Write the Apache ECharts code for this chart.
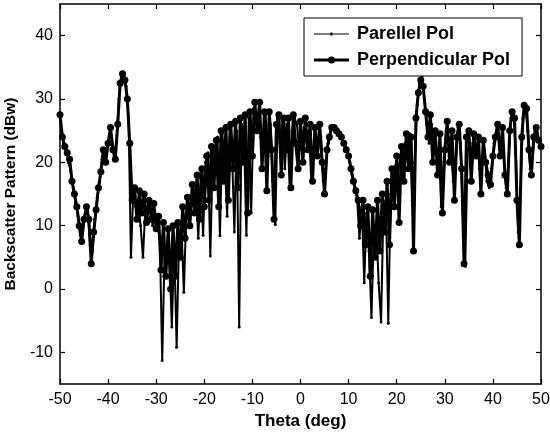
<!DOCTYPE html>
<html>
<head>
<meta charset="utf-8">
<script src="https://cdn.jsdelivr.net/npm/echarts@6/dist/echarts.min.js"></script>
<style>html,body{margin:0;padding:0;background:#fff}#c{width:550px;height:437px}</style>
</head>
<body>
<div id="c"></div>
<script>
// Theta grids (deg)
const perpStart = -50, perpStep = 0.5;
const parStart = -49.75, parStep = 0.5;
const xTicks = [-50, -40, -30, -20, -10, 0, 10, 20, 30, 40, 50];
const yTicks = [-10, 0, 10, 20, 30, 40];

// Perpendicular Pol (dBw)
const perpValues = [
 27.5,24,22.5,21.5,20.5,17,15,13,10,7.5,
 11,13,11,4,9,12.5,16,18.5,22,20,
 23,25.5,22,20.5,26,32.5,34,33,30,23,
 14,16,11,15.5,12,15,10.5,14,11,13.5,
 9.5,11.5,3,10.5,2,9.5,0,10,2,10.5,
 5,13,8,14.5,10,16.5,12,18,11,19,
 13,21,14,22.5,16,23.5,13,25,17,25.5,
 14,26,19,26.5,16,27,20,27.5,12,28,
 21,29.5,25,29.5,19,28,15.5,28,22,11,
 26,27.5,18,27,22,27,16,27.5,23,19,
 26.5,20,27,22,26,17,25.5,21,26,20,
 15,22,24,25.5,25.5,25,24.5,24,23,22,
 21,19,17,15.5,14,10,14,7,13,2,
 12.5,5,14,6,15,9,17,7,19,13,
 21,10.5,22.5,17,24.5,19,24,6,27,31,
 33,32,28,24,27.5,20,25,18,24.5,12,
 22,26.5,20,25,14,24,26,19,4,24,
 25,17,24.5,21,24,15,23.5,20,18,16.5,
 21,24,26,21,25.5,18,15,25,28,27,
 14,7,24,29,28.5,22,18,24,25.5,23.5,
 22.5
];

// Parellel Pol (dBw)
const parValues = [
 25,23,22,20,18.5,16,13.5,11.5,8.5,9.5,
 12,12.5,7,6,11,14.5,17,20.5,21,22,
 24,24,21,23.5,30,33.5,34,32,27,5,
 15.5,13,14,10,5,13,12,13,10,12,
 10,8,-11.3,6,4,5,-6,7,-9.2,8,
 10,-0.5,12,13,14,15,16,8,17.5,8.5,
 20,21.5,5.2,21,22.5,24,8.4,24.5,20,11.5,
 25.5,22,9,25,-6,26,24,8.5,27,12,
 28.5,28,27,24,22,27.5,21,26,17,10.2,
 27,23,26.5,19,26,15.7,25,27,26,22,
 24,25.5,24.5,25,17,22,24,23.5,24,17,
 19,23,25,25.5,25.5,25,24.5,23.5,22.5,21.5,
 20,18,16,14.5,8,13,1,12,6,-4.5,
 9,10,1,-5.2,13,14,-5.4,15,17,19.5,
 18,21,20,23,22,24.5,14,20,29,32.5,
 33.5,30,26,23,26,22,21,22,13,17,
 25,24,22,17,20,25.5,23,12,3.6,22,
 23,21,22,23,19,21,22,17,16,19,
 23,25,24,23,21,16,20,27,28,22,
 9,16,27,29,25,19,21,25,24.5,23
];

const perpData = perpValues.map((v, i) => [perpStart + i * perpStep, v]);
const parData = parValues.map((v, i) => [parStart + i * parStep, v]);

const chart = echarts.init(document.getElementById('c'));
const fontFam = '"Liberation Sans", Arial, Helvetica, sans-serif';
const axisLineStyle = { color: '#000', width: 1.5 };
const tickStyle = { color: '#000', width: 1.2 };
const parIcon = 'path://M0,0L0,0M35,14L35,14M0,6.5L35,6.5L35,7.5L0,7.5ZM16.5,5.5L18.5,5.5L18.5,8.5L16.5,8.5Z';
const perpIcon = 'path://M0,0L0,0M35,14L35,14M0,5.5L35,5.5L35,8.5L0,8.5ZM14,7A3.5,3.5 0 1 1 21,7A3.5,3.5 0 1 1 14,7Z';
chart.setOption({
  animation: false,
  backgroundColor: '#fff',
  grid: { left: 60, right: 9, top: 4, bottom: 53, containLabel: false, outerBoundsMode: 'none' },
  legend: {
    orient: 'vertical',
    left: 304, top: 18,
    itemWidth: 35, itemHeight: 14, itemGap: 8,
    padding: [7, 12, 7, 10],
    borderColor: '#000', borderWidth: 1, backgroundColor: '#fff', borderRadius: 0,
    textStyle: { fontFamily: fontFam, fontWeight: 'bold', fontSize: 18, color: '#000', padding: [0, 0, 0, 3] },
    data: [
      { name: 'Parellel Pol', icon: parIcon, itemStyle: { color: '#000' } },
      { name: 'Perpendicular Pol', icon: perpIcon, itemStyle: { color: '#000' } }
    ]
  },
  xAxis: [{
    type: 'value', min: -50, max: 50, interval: 10,
    name: 'Theta (deg)', nameLocation: 'middle', nameGap: 28,
    nameTextStyle: { fontFamily: fontFam, fontWeight: 'bold', fontSize: 17, color: '#000' },
    axisLine: { onZero: false, lineStyle: axisLineStyle },
    axisTick: { inside: true, length: 5, lineStyle: tickStyle },
    axisLabel: { fontFamily: fontFam, fontSize: 16, color: '#000', margin: 8, customValues: xTicks },
    splitLine: { show: false }
  }, {
    type: 'value', min: -50, max: 50, interval: 10, position: 'top',
    axisLine: { onZero: false, lineStyle: axisLineStyle },
    axisTick: { inside: true, length: 5, lineStyle: tickStyle },
    axisLabel: { show: false }, splitLine: { show: false }
  }],
  yAxis: [{
    type: 'value', min: -15, max: 45,
    name: 'Backscatter Pattern (dBw)', nameLocation: 'middle', nameGap: 30,
    nameTextStyle: { fontFamily: fontFam, fontWeight: 'bold', fontSize: 15.5, color: '#000' },
    axisLine: { show: true, onZero: false, lineStyle: axisLineStyle },
    axisTick: { show: true, inside: true, length: 5, lineStyle: tickStyle, customValues: yTicks },
    axisLabel: { fontFamily: fontFam, fontSize: 16, color: '#000', margin: 7, customValues: yTicks },
    splitLine: { show: false }
  }, {
    type: 'value', min: -15, max: 45, position: 'right',
    axisLine: { show: true, onZero: false, lineStyle: axisLineStyle },
    axisTick: { show: true, inside: true, length: 5, lineStyle: tickStyle, customValues: yTicks },
    axisLabel: { show: false }, splitLine: { show: false }
  }],
  series: [{
    name: 'Parellel Pol', type: 'line', data: parData,
    symbol: 'circle', symbolSize: 3, showSymbol: true,
    lineStyle: { color: '#000', width: 2 },
    itemStyle: { color: '#000' }
  }, {
    name: 'Perpendicular Pol', type: 'line', data: perpData,
    symbol: 'circle', symbolSize: 7, showSymbol: true,
    lineStyle: { color: '#000', width: 3 },
    itemStyle: { color: '#000' }
  }]
});
</script>
</body>
</html>
